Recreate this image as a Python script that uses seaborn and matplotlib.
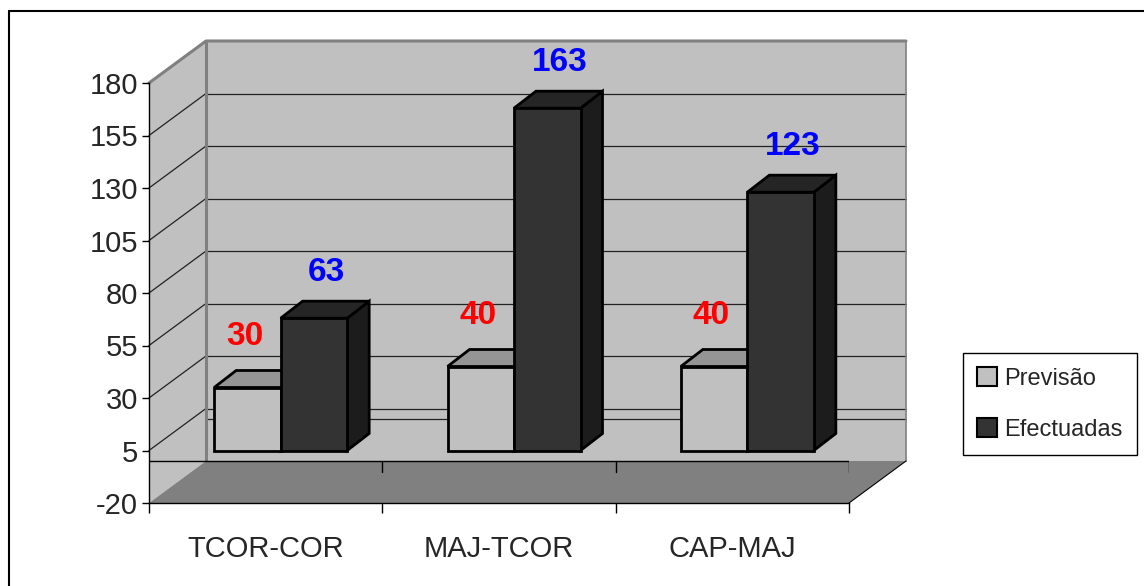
import matplotlib
matplotlib.use('Agg')
import matplotlib.pyplot as plt
from matplotlib import font_manager
from matplotlib.patches import Polygon, Patch
from matplotlib.lines import Line2D
import pandas as pd
import seaborn as sb

# Dados do grafico
categorias = ['TCOR-COR', 'MAJ-TCOR', 'CAP-MAJ']
series = ['Previsão', 'Efectuadas']
previsao = [30, 40, 40]
efectuadas = [63, 163, 123]
y_ticks = [-20, 5, 30, 55, 80, 105, 130, 155, 180]

df = pd.DataFrame({
    'Posto': categorias * 2,
    'Serie': [series[0]] * 3 + [series[1]] * 3,
    'Valor': previsao + efectuadas,
})

# cores (frente, topo, lado) de cada serie
cores = {'Previsão': ('#c0c0c0', '#959595', '#8a8a8a'),
         'Efectuadas': ('#333333', '#252525', '#1c1c1c')}
cor_rotulo = {'Previsão': '#ff0000', 'Efectuadas': '#0000ff'}

sb.set_style('white')
plt.rcParams['font.family'] = ['Liberation Sans', 'DejaVu Sans']
nomes = {f.name for f in font_manager.fontManager.ttflist}
if 'Liberation Sans Narrow' in nomes:
    fam_cat, tam_cat = ['Liberation Sans Narrow', 'DejaVu Sans'], 24
else:
    fam_cat, tam_cat = ['Liberation Sans', 'DejaVu Sans'], 21

W, H = 1144, 586
fig = plt.figure(figsize=(W / 100, H / 100), dpi=100)
fig.patch.set_facecolor('white')

# eixo da frente (escala, paredes, chao)
ax = fig.add_axes([149 / W, (H - 503) / H, 700 / W, 420 / H])
ax.set_facecolor('none')
ax.set_xlim(-0.5, 2.5)
ax.set_ylim(-20, 180)
ppx = 700 / 3.0          # pixels por categoria
ppy = 420 / 200.0        # pixels por unidade
DX, DY = 57 / ppx, 42 / ppy

parede = '#c0c0c0'
borda = '#808080'
x0, x1 = -0.5, 2.5
ax.add_patch(Polygon([(x0, -20), (x0, 180), (x0 + DX, 180 + DY), (x0 + DX, -20 + DY)],
                     closed=True, fc=parede, ec='none', clip_on=False, zorder=0))
ax.add_patch(Polygon([(x0 + DX, -20 + DY), (x0 + DX, 180 + DY), (x1 + DX, 180 + DY), (x1 + DX, -20 + DY)],
                     closed=True, fc=parede, ec='none', clip_on=False, zorder=0))
ax.add_patch(Polygon([(x0, -20), (x1, -20), (x1 + DX, -20 + DY), (x0 + DX, -20 + DY)],
                     closed=True, fc='#808080', ec='none', clip_on=False, zorder=0.5))
ax.plot([x1, x1 + DX], [-20, -20 + DY], color='black', lw=0.8, clip_on=False, zorder=0.6)

# linhas de grelha na parede lateral e do fundo
for v in y_ticks[1:-1] + [0]:
    ax.plot([x0 + DX, x1 + DX], [v + DY, v + DY], color='#222222', lw=0.9, clip_on=False, zorder=0.2)
for v in y_ticks[1:-1]:
    ax.plot([x0, x0 + DX], [v, v + DY], color='#222222', lw=0.9, clip_on=False, zorder=0.2)
ax.plot([x0, x0 + DX, x1 + DX], [180, 180 + DY, 180 + DY], color=borda, lw=2.2, clip_on=False, zorder=0.3)
ax.plot([x0 + DX, x0 + DX], [-20 + DY, 180 + DY], color=borda, lw=2.2, clip_on=False, zorder=0.3)
ax.plot([x1 + DX, x1 + DX], [-20 + DY, 180 + DY], color=borda, lw=1.2, clip_on=False, zorder=0.3)

# eixo das categorias em zero
ax.plot([x0, x1], [0, 0], color='black', lw=1.0, zorder=0.7)
for b in [0.5, 1.5, 2.5]:
    ax.plot([b, b], [0, -5], color='black', lw=1.0, zorder=0.7)

for s in ['top', 'right']:
    ax.spines[s].set_visible(False)
for s in ['left', 'bottom']:
    ax.spines[s].set_color('black')
    ax.spines[s].set_linewidth(1.0)
ax.set_yticks(y_ticks)
ax.set_yticklabels([str(v) for v in y_ticks], fontsize=21)
ax.set_xticks(range(len(categorias)))
ax.set_xticklabels(categorias, fontsize=tam_cat, family=fam_cat)
ax.set_xticks([-0.5, 0.5, 1.5, 2.5], minor=True)
ax.tick_params(axis='y', length=5, width=1, color='black', pad=3, left=True)
ax.tick_params(axis='x', which='major', length=0, pad=23, bottom=True)
ax.tick_params(axis='x', which='minor', length=7, width=1, color='black', bottom=True)
ax.set_xlabel('')
ax.set_ylabel('')

# eixo das barras (um pouco para tras)
bx = fig.add_axes([(149 + 15) / W, (H - 503 + 10.5) / H, 700 / W, 420 / H])
bx.set_facecolor('none')
sb.barplot(data=df, x='Posto', y='Valor', hue='Serie', hue_order=series,
           palette=[cores[s][0] for s in series], saturation=1, width=0.57,
           edgecolor='black', linewidth=2.0, legend=False, ax=bx, zorder=2)
bx.set_xlim(-0.5, 2.5)
bx.set_ylim(-20, 180)
bx.set_axis_off()

ddx, ddy = 22 / ppx, 17 / ppy
for serie, cont in zip(series, bx.containers):
    for p in cont:
        xa, w, h = p.get_x(), p.get_width(), p.get_height()
        topo = [(xa, h), (xa + w, h), (xa + w + ddx, h + ddy), (xa + ddx, h + ddy)]
        lado = [(xa + w, 0), (xa + w, h), (xa + w + ddx, h + ddy), (xa + w + ddx, ddy)]
        bx.add_patch(Polygon(lado, closed=True, fc=cores[serie][2], ec='black', lw=2.0, zorder=1.5, clip_on=False))
        bx.add_patch(Polygon(topo, closed=True, fc=cores[serie][1], ec='black', lw=2.0, zorder=1.5, clip_on=False))
        off = (9, 33) if serie == 'Efectuadas' else (-2, 37)
        bx.annotate(f'{h:.0f}', (xa + w / 2, h), xytext=off, textcoords='offset points',
                    ha='center', va='center', fontsize=24, fontweight='bold',
                    color=cor_rotulo[serie], annotation_clip=False)

# legenda
handles = [Patch(facecolor=cores[s][0], edgecolor='black', linewidth=1.5, label=s) for s in series]
fig.legend(handles=handles, loc='center left', bbox_to_anchor=(963 / W, 1 - 404 / H),
           fontsize=17, frameon=True, fancybox=False, edgecolor='black', framealpha=1,
           handlelength=0.85, handleheight=0.85, handletextpad=0.3, labelspacing=1.2,
           borderpad=0.6, borderaxespad=0)

# moldura exterior
fig.add_artist(Line2D([9 / W, 9 / W], [0, 1 - 11 / H], color='black', lw=1.5))
fig.add_artist(Line2D([9 / W, 1], [1 - 11 / H, 1 - 11 / H], color='black', lw=1.5))

plt.savefig('out.png', dpi=100)
